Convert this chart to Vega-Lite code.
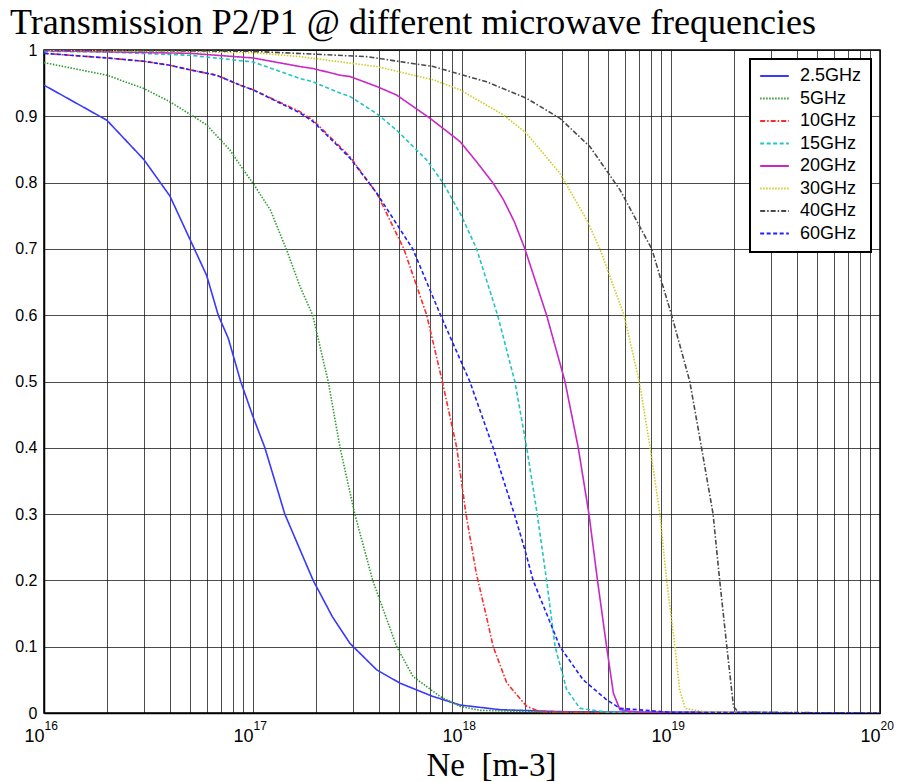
{
  "$schema": "https://vega.github.io/schema/vega-lite/v6.json",
  "width": 836,
  "height": 663,
  "autosize": {"type": "none"},
  "padding": {"left": 44, "top": 50, "right": 17, "bottom": 69},
  "background": "white",
  "title": {
    "text": "Transmission P2/P1 @ different microwave frequencies",
    "font": "Liberation Serif",
    "fontSize": 36,
    "fontWeight": "normal",
    "color": "black",
    "anchor": "start",
    "frame": "group",
    "dx": -34,
    "offset": 0
  },
  "config": {
    "view": {"stroke": "black", "strokeWidth": 1.5},
    "legend": {
      "orient": "top-right",
      "offset": 9,
      "strokeColor": "black",
      "strokeWidth": 2,
      "fillColor": "white",
      "padding": 9,
      "cornerRadius": 0,
      "symbolType": "stroke",
      "symbolSize": 821,
      "symbolStrokeWidth": 2,
      "clipHeight": 16,
      "rowPadding": 4.5,
      "labelFont": "Liberation Sans",
      "labelFontSize": 18,
      "labelColor": "black",
      "labelOffset": 10
    }
  },
  "data": {
    "values": [
      {"f": "2.5GHz", "ne": 1e16, "t": 0.947},
      {"f": "2.5GHz", "ne": 2e16, "t": 0.894},
      {"f": "2.5GHz", "ne": 3e16, "t": 0.835},
      {"f": "2.5GHz", "ne": 4e16, "t": 0.78},
      {"f": "2.5GHz", "ne": 5e16, "t": 0.714},
      {"f": "2.5GHz", "ne": 6e16, "t": 0.66},
      {"f": "2.5GHz", "ne": 6.82e16, "t": 0.6},
      {"f": "2.5GHz", "ne": 7.62e16, "t": 0.565},
      {"f": "2.5GHz", "ne": 8.73e16, "t": 0.5},
      {"f": "2.5GHz", "ne": 1e17, "t": 0.447},
      {"f": "2.5GHz", "ne": 1.14e17, "t": 0.4},
      {"f": "2.5GHz", "ne": 1.42e17, "t": 0.3},
      {"f": "2.5GHz", "ne": 1.68e17, "t": 0.246},
      {"f": "2.5GHz", "ne": 1.94e17, "t": 0.2},
      {"f": "2.5GHz", "ne": 2.4e17, "t": 0.145},
      {"f": "2.5GHz", "ne": 2.91e17, "t": 0.105},
      {"f": "2.5GHz", "ne": 3.91e17, "t": 0.065},
      {"f": "2.5GHz", "ne": 5.05e17, "t": 0.045},
      {"f": "2.5GHz", "ne": 7.26e17, "t": 0.025},
      {"f": "2.5GHz", "ne": 9.8e17, "t": 0.012},
      {"f": "2.5GHz", "ne": 1.52e18, "t": 0.005},
      {"f": "2.5GHz", "ne": 3e18, "t": 0.002},
      {"f": "2.5GHz", "ne": 1e19, "t": 0.001},
      {"f": "2.5GHz", "ne": 1e20, "t": 0},

      {"f": "5GHz", "ne": 1e16, "t": 0.981},
      {"f": "5GHz", "ne": 2e16, "t": 0.962},
      {"f": "5GHz", "ne": 3e16, "t": 0.942},
      {"f": "5GHz", "ne": 4e16, "t": 0.922},
      {"f": "5GHz", "ne": 5e16, "t": 0.903},
      {"f": "5GHz", "ne": 6e16, "t": 0.887},
      {"f": "5GHz", "ne": 7.76e16, "t": 0.849},
      {"f": "5GHz", "ne": 9e16, "t": 0.819},
      {"f": "5GHz", "ne": 1e17, "t": 0.799},
      {"f": "5GHz", "ne": 1.21e17, "t": 0.759},
      {"f": "5GHz", "ne": 1.45e17, "t": 0.698},
      {"f": "5GHz", "ne": 1.68e17, "t": 0.643},
      {"f": "5GHz", "ne": 1.93e17, "t": 0.6},
      {"f": "5GHz", "ne": 2.29e17, "t": 0.5},
      {"f": "5GHz", "ne": 2.61e17, "t": 0.4},
      {"f": "5GHz", "ne": 3.07e17, "t": 0.3},
      {"f": "5GHz", "ne": 3.74e17, "t": 0.2},
      {"f": "5GHz", "ne": 4.87e17, "t": 0.1},
      {"f": "5GHz", "ne": 5.83e17, "t": 0.055},
      {"f": "5GHz", "ne": 7.85e17, "t": 0.025},
      {"f": "5GHz", "ne": 9.8e17, "t": 0.01},
      {"f": "5GHz", "ne": 1.22e18, "t": 0.004},
      {"f": "5GHz", "ne": 3e18, "t": 0.001},
      {"f": "5GHz", "ne": 1e20, "t": 0},

      {"f": "10GHz", "ne": 1e16, "t": 0.995},
      {"f": "10GHz", "ne": 2e16, "t": 0.988},
      {"f": "10GHz", "ne": 3e16, "t": 0.983},
      {"f": "10GHz", "ne": 4e16, "t": 0.977},
      {"f": "10GHz", "ne": 5e16, "t": 0.97},
      {"f": "10GHz", "ne": 6.7e16, "t": 0.962},
      {"f": "10GHz", "ne": 8.67e16, "t": 0.947},
      {"f": "10GHz", "ne": 1e17, "t": 0.94},
      {"f": "10GHz", "ne": 1.68e17, "t": 0.907},
      {"f": "10GHz", "ne": 1.94e17, "t": 0.894},
      {"f": "10GHz", "ne": 2.61e17, "t": 0.854},
      {"f": "10GHz", "ne": 2.91e17, "t": 0.839},
      {"f": "10GHz", "ne": 3.91e17, "t": 0.784},
      {"f": "10GHz", "ne": 5.27e17, "t": 0.7},
      {"f": "10GHz", "ne": 6.78e17, "t": 0.6},
      {"f": "10GHz", "ne": 8.05e17, "t": 0.5},
      {"f": "10GHz", "ne": 9.44e17, "t": 0.4},
      {"f": "10GHz", "ne": 1.045e18, "t": 0.3},
      {"f": "10GHz", "ne": 1.17e18, "t": 0.211},
      {"f": "10GHz", "ne": 1.31e18, "t": 0.145},
      {"f": "10GHz", "ne": 1.41e18, "t": 0.1},
      {"f": "10GHz", "ne": 1.64e18, "t": 0.045},
      {"f": "10GHz", "ne": 2.04e18, "t": 0.01},
      {"f": "10GHz", "ne": 2.36e18, "t": 0.002},
      {"f": "10GHz", "ne": 5e18, "t": 0.0005},
      {"f": "10GHz", "ne": 1e20, "t": 0},

      {"f": "15GHz", "ne": 1e16, "t": 0.998},
      {"f": "15GHz", "ne": 2e16, "t": 0.997},
      {"f": "15GHz", "ne": 5e16, "t": 0.992},
      {"f": "15GHz", "ne": 1e17, "t": 0.982},
      {"f": "15GHz", "ne": 1.68e17, "t": 0.957},
      {"f": "15GHz", "ne": 1.94e17, "t": 0.952},
      {"f": "15GHz", "ne": 2.61e17, "t": 0.935},
      {"f": "15GHz", "ne": 2.91e17, "t": 0.93},
      {"f": "15GHz", "ne": 3.91e17, "t": 0.904},
      {"f": "15GHz", "ne": 4.87e17, "t": 0.879},
      {"f": "15GHz", "ne": 6.78e17, "t": 0.834},
      {"f": "15GHz", "ne": 8.14e17, "t": 0.799},
      {"f": "15GHz", "ne": 9.97e17, "t": 0.749},
      {"f": "15GHz", "ne": 1.175e18, "t": 0.7},
      {"f": "15GHz", "ne": 1.48e18, "t": 0.6},
      {"f": "15GHz", "ne": 1.79e18, "t": 0.5},
      {"f": "15GHz", "ne": 2.04e18, "t": 0.4},
      {"f": "15GHz", "ne": 2.29e18, "t": 0.3},
      {"f": "15GHz", "ne": 2.54e18, "t": 0.2},
      {"f": "15GHz", "ne": 2.79e18, "t": 0.1},
      {"f": "15GHz", "ne": 3.17e18, "t": 0.035},
      {"f": "15GHz", "ne": 3.67e18, "t": 0.007},
      {"f": "15GHz", "ne": 5e18, "t": 0.001},
      {"f": "15GHz", "ne": 1e20, "t": 0},

      {"f": "20GHz", "ne": 1e16, "t": 0.999},
      {"f": "20GHz", "ne": 5e16, "t": 0.995},
      {"f": "20GHz", "ne": 1e17, "t": 0.988},
      {"f": "20GHz", "ne": 1.68e17, "t": 0.975},
      {"f": "20GHz", "ne": 1.94e17, "t": 0.972},
      {"f": "20GHz", "ne": 2.61e17, "t": 0.962},
      {"f": "20GHz", "ne": 2.91e17, "t": 0.96},
      {"f": "20GHz", "ne": 3.91e17, "t": 0.945},
      {"f": "20GHz", "ne": 4.87e17, "t": 0.932},
      {"f": "20GHz", "ne": 7.03e17, "t": 0.897},
      {"f": "20GHz", "ne": 9.78e17, "t": 0.862},
      {"f": "20GHz", "ne": 1.17e18, "t": 0.832},
      {"f": "20GHz", "ne": 1.41e18, "t": 0.799},
      {"f": "20GHz", "ne": 1.58e18, "t": 0.774},
      {"f": "20GHz", "ne": 1.78e18, "t": 0.741},
      {"f": "20GHz", "ne": 2.0e18, "t": 0.7},
      {"f": "20GHz", "ne": 2.54e18, "t": 0.6},
      {"f": "20GHz", "ne": 3.11e18, "t": 0.5},
      {"f": "20GHz", "ne": 3.6e18, "t": 0.4},
      {"f": "20GHz", "ne": 4.05e18, "t": 0.3},
      {"f": "20GHz", "ne": 4.45e18, "t": 0.2},
      {"f": "20GHz", "ne": 4.92e18, "t": 0.1},
      {"f": "20GHz", "ne": 5.3e18, "t": 0.03},
      {"f": "20GHz", "ne": 5.7e18, "t": 0.005},
      {"f": "20GHz", "ne": 7e18, "t": 0.001},
      {"f": "20GHz", "ne": 1e20, "t": 0},

      {"f": "30GHz", "ne": 1e16, "t": 1.0},
      {"f": "30GHz", "ne": 1e17, "t": 0.996},
      {"f": "30GHz", "ne": 1.68e17, "t": 0.99},
      {"f": "30GHz", "ne": 3.91e17, "t": 0.975},
      {"f": "30GHz", "ne": 7.29e17, "t": 0.955},
      {"f": "30GHz", "ne": 9.78e17, "t": 0.94},
      {"f": "30GHz", "ne": 1.58e18, "t": 0.902},
      {"f": "30GHz", "ne": 2.04e18, "t": 0.874},
      {"f": "30GHz", "ne": 2.94e18, "t": 0.814},
      {"f": "30GHz", "ne": 3.95e18, "t": 0.744},
      {"f": "30GHz", "ne": 4.57e18, "t": 0.7},
      {"f": "30GHz", "ne": 5.96e18, "t": 0.6},
      {"f": "30GHz", "ne": 7.05e18, "t": 0.5},
      {"f": "30GHz", "ne": 7.95e18, "t": 0.4},
      {"f": "30GHz", "ne": 8.85e18, "t": 0.3},
      {"f": "30GHz", "ne": 9.53e18, "t": 0.2},
      {"f": "30GHz", "ne": 1.045e19, "t": 0.1},
      {"f": "30GHz", "ne": 1.1e19, "t": 0.035},
      {"f": "30GHz", "ne": 1.17e19, "t": 0.007},
      {"f": "30GHz", "ne": 1.5e19, "t": 0.001},
      {"f": "30GHz", "ne": 1e20, "t": 0},

      {"f": "40GHz", "ne": 1e16, "t": 1.0},
      {"f": "40GHz", "ne": 1e17, "t": 0.998},
      {"f": "40GHz", "ne": 3.5e17, "t": 0.99},
      {"f": "40GHz", "ne": 7.29e17, "t": 0.975},
      {"f": "40GHz", "ne": 1.31e18, "t": 0.952},
      {"f": "40GHz", "ne": 2.04e18, "t": 0.927},
      {"f": "40GHz", "ne": 2.94e18, "t": 0.897},
      {"f": "40GHz", "ne": 4.1e18, "t": 0.854},
      {"f": "40GHz", "ne": 5.7e18, "t": 0.789},
      {"f": "40GHz", "ne": 8.09e18, "t": 0.7},
      {"f": "40GHz", "ne": 1.007e19, "t": 0.6},
      {"f": "40GHz", "ne": 1.23e19, "t": 0.5},
      {"f": "40GHz", "ne": 1.4e19, "t": 0.4},
      {"f": "40GHz", "ne": 1.59e19, "t": 0.3},
      {"f": "40GHz", "ne": 1.71e19, "t": 0.2},
      {"f": "40GHz", "ne": 1.85e19, "t": 0.1},
      {"f": "40GHz", "ne": 1.95e19, "t": 0.035},
      {"f": "40GHz", "ne": 1.99e19, "t": 0.01},
      {"f": "40GHz", "ne": 2.1e19, "t": 0.001},
      {"f": "40GHz", "ne": 1e20, "t": 0},

      {"f": "60GHz", "ne": 1e16, "t": 0.995},
      {"f": "60GHz", "ne": 2e16, "t": 0.988},
      {"f": "60GHz", "ne": 3e16, "t": 0.983},
      {"f": "60GHz", "ne": 4e16, "t": 0.977},
      {"f": "60GHz", "ne": 5e16, "t": 0.97},
      {"f": "60GHz", "ne": 6.7e16, "t": 0.962},
      {"f": "60GHz", "ne": 8.67e16, "t": 0.947},
      {"f": "60GHz", "ne": 1e17, "t": 0.94},
      {"f": "60GHz", "ne": 1.68e17, "t": 0.905},
      {"f": "60GHz", "ne": 1.94e17, "t": 0.892},
      {"f": "60GHz", "ne": 2.61e17, "t": 0.852},
      {"f": "60GHz", "ne": 2.91e17, "t": 0.837},
      {"f": "60GHz", "ne": 3.91e17, "t": 0.784},
      {"f": "60GHz", "ne": 4.7e17, "t": 0.745},
      {"f": "60GHz", "ne": 5.81e17, "t": 0.7},
      {"f": "60GHz", "ne": 7.9e17, "t": 0.6},
      {"f": "60GHz", "ne": 1.09e18, "t": 0.5},
      {"f": "60GHz", "ne": 1.41e18, "t": 0.4},
      {"f": "60GHz", "ne": 1.78e18, "t": 0.3},
      {"f": "60GHz", "ne": 2.0e18, "t": 0.246},
      {"f": "60GHz", "ne": 2.19e18, "t": 0.2},
      {"f": "60GHz", "ne": 2.94e18, "t": 0.1},
      {"f": "60GHz", "ne": 3.8e18, "t": 0.05},
      {"f": "60GHz", "ne": 4.92e18, "t": 0.02},
      {"f": "60GHz", "ne": 5.7e18, "t": 0.007},
      {"f": "60GHz", "ne": 1e19, "t": 0.001},
      {"f": "60GHz", "ne": 1e20, "t": 0}
    ]
  },
  "encoding": {
    "y": {
      "field": "t",
      "type": "quantitative",
      "scale": {"domain": [0, 1], "nice": false, "zero": true},
      "axis": {
        "title": null,
        "values": [0, 0.1, 0.2, 0.3, 0.4, 0.5, 0.6, 0.7, 0.8, 0.9, 1],
        "format": "~g",
        "labelFont": "Liberation Sans",
        "labelFontSize": 16,
        "labelColor": "black",
        "labelPadding": 7,
        "labelOverlap": false,
        "labelFlush": false,
        "ticks": false,
        "grid": true,
        "gridColor": "black",
        "gridOpacity": 0.7,
        "gridWidth": 1,
        "domainColor": "black",
        "domainWidth": 1.5
      }
    },
    "color": {
      "field": "f",
      "type": "nominal",
      "scale": {
        "domain": ["2.5GHz", "5GHz", "10GHz", "15GHz", "20GHz", "30GHz", "40GHz", "60GHz"],
        "range": ["#3838ff", "#2f9a2f", "#ff2a2a", "#22c4c4", "#c828c8", "#cccc22", "#4a4a4a", "#1f1fff"]
      },
      "legend": {"title": null}
    },
    "strokeDash": {
      "field": "f",
      "type": "nominal",
      "scale": {
        "domain": ["2.5GHz", "5GHz", "10GHz", "15GHz", "20GHz", "30GHz", "40GHz", "60GHz"],
        "range": [[1, 0], [1.5, 1.5], [5, 2, 1.5, 2], [4, 2.5], [1, 0], [1.5, 1.5], [5, 2, 1.5, 2], [4, 2.5]]
      },
      "legend": {"title": null}
    }
  },
  "layer": [
    {
      "transform": [{"filter": "indexof(['2.5GHz', '5GHz', '10GHz', '15GHz'], datum.f) >= 0"}],
      "mark": {"type": "line", "strokeWidth": 1.6, "clip": true},
      "encoding": {
        "x": {
          "field": "ne",
          "type": "quantitative",
          "scale": {"type": "log", "domain": [1e16, 1e20], "nice": false},
          "axis": {
            "orient": "bottom",
            "title": "Ne\u00a0\u00a0[m-3]",
            "titleFont": "Liberation Serif",
            "titleFontSize": 33,
            "titleFontWeight": "normal",
            "titleColor": "black",
            "titlePadding": 4,
            "titleX": 447,
            "titleAlign": "center",
            "values": [1e16, 2e16, 3e16, 4e16, 5e16, 6e16, 7e16, 8e16, 9e16,
                       1e17, 2e17, 3e17, 4e17, 5e17, 6e17, 7e17, 8e17, 9e17,
                       1e18, 2e18, 3e18, 4e18, 5e18, 6e18, 7e18, 8e18, 9e18,
                       1e19, 2e19, 3e19, 4e19, 5e19, 6e19, 7e19, 8e19, 9e19, 1e20],
            "labelExpr": "datum.value == 1e16 || datum.value == 1e17 || datum.value == 1e18 || datum.value == 1e19 || datum.value == 1e20 ? '10' : ''",
            "labelFont": "Liberation Sans",
            "labelFontSize": 18,
            "labelColor": "black",
            "labelAlign": "right",
            "labelPadding": 14,
            "labelFlush": false,
            "labelOverlap": false,
            "ticks": false,
            "grid": true,
            "gridColor": "black",
            "gridOpacity": 0.7,
            "gridWidth": 1,
            "domainColor": "black",
            "domainWidth": 1.5
          }
        }
      }
    },
    {
      "transform": [{"filter": "indexof(['2.5GHz', '5GHz', '10GHz', '15GHz'], datum.f) < 0"}],
      "mark": {"type": "line", "strokeWidth": 1.6, "clip": true},
      "encoding": {
        "x": {
          "field": "ne",
          "type": "quantitative",
          "scale": {"type": "log", "domain": [1e16, 1e20], "nice": false},
          "axis": {
            "orient": "bottom",
            "title": null,
            "values": [1e16, 1e17, 1e18, 1e19, 1e20],
            "labelExpr": "datum.value == 1e16 ? '16' : datum.value == 1e17 ? '17' : datum.value == 1e18 ? '18' : datum.value == 1e19 ? '19' : '20'",
            "labelFont": "Liberation Sans",
            "labelFontSize": 12,
            "labelColor": "black",
            "labelAlign": "left",
            "labelDx": 1,
            "labelPadding": 7,
            "labelFlush": false,
            "labelOverlap": false,
            "ticks": false,
            "grid": false,
            "domain": false
          }
        }
      }
    }
  ],
  "resolve": {"axis": {"x": "independent"}}
}
